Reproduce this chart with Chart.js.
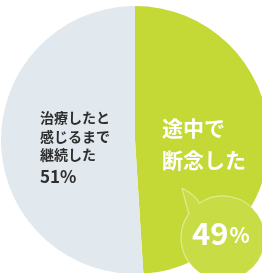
<!DOCTYPE html>
<html>
<head>
<meta charset="utf-8">
<script src="https://cdn.jsdelivr.net/npm/chart.js@4"></script>
<style>
  html, body { margin: 0; padding: 0; background: #fff; overflow: hidden; }
  #wrap { width: 262px; height: 273px; overflow: hidden; }
</style>
</head>
<body>
<div id="wrap"><canvas id="pieChart" width="270" height="280"></canvas></div>
<script>
const categories = ['途中で断念した', '治療したと感じるまで継続した'];
const values = [49, 51];
const colors = ['#c4d936', '#e1e9ee'];
const leftLines = ['治療したと', '感じるまで', '継続した'];
const rightLines = ['途中で', '断念した'];

const FONT = '"Noto Sans CJK JP", "Noto Sans", sans-serif';

// labels + speech bubble drawn on top of the pie
const labelPlugin = {
  id: 'pieLabels',
  afterDatasetsDraw(chart) {
    const c = chart.ctx;
    const arc = chart.getDatasetMeta(0).data[0];
    const cx = arc.x, cy = arc.y;

    // bubble
    const bx = cx + 88, by = cy + 98, br = 42;
    c.save();
    c.beginPath();
    c.moveTo(cx + 47, cy + 48);
    c.quadraticCurveTo(cx + 62, cy + 56, bx - 24, by - 35);
    c.arc(bx, by, br, -Math.PI * 0.69, Math.PI * 1.2, false);
    c.quadraticCurveTo(cx + 54, cy + 76, cx + 47, cy + 48);
    c.fillStyle = '#c8dc45';
    c.fill();
    c.strokeStyle = 'rgba(255,255,255,0.45)';
    c.lineWidth = 1.2;
    c.stroke();
    c.restore();

    c.save();
    c.textBaseline = 'middle';
    c.textAlign = 'left';

    c.fillStyle = '#2e2e2e';
    c.font = 'bold 14px ' + FONT;
    leftLines.forEach((t, i) => c.fillText(t, cx - 95, cy - 22 + i * 18.5));
    c.font = 'bold 17px ' + FONT;
    c.fillText(values[1] + '%', cx - 95, cy + 37);

    c.fillStyle = '#ffffff';
    c.font = 'bold 21px ' + FONT;
    rightLines.forEach((t, i) => c.fillText(t, cx + 27, cy - 12 + i * 32));

    c.font = 'bold 31px ' + FONT;
    const num = String(values[0]);
    const nx = cx + 57;
    c.fillText(num, nx, cy + 93);
    const w = c.measureText(num).width;
    c.font = 'bold 21px ' + FONT;
    c.fillText('%', nx + w + 1, cy + 95);
    c.restore();
  }
};

new Chart(document.getElementById('pieChart'), {
  type: 'pie',
  data: {
    labels: categories,
    datasets: [{
      data: values,
      backgroundColor: colors,
      borderWidth: 0
    }]
  },
  options: {
    responsive: false,
    animation: false,
    layout: { padding: { left: 1, right: 1, top: 6, bottom: 6 } },
    plugins: {
      legend: { display: false },
      tooltip: { enabled: false }
    }
  },
  plugins: [labelPlugin]
});
</script>
</body>
</html>
